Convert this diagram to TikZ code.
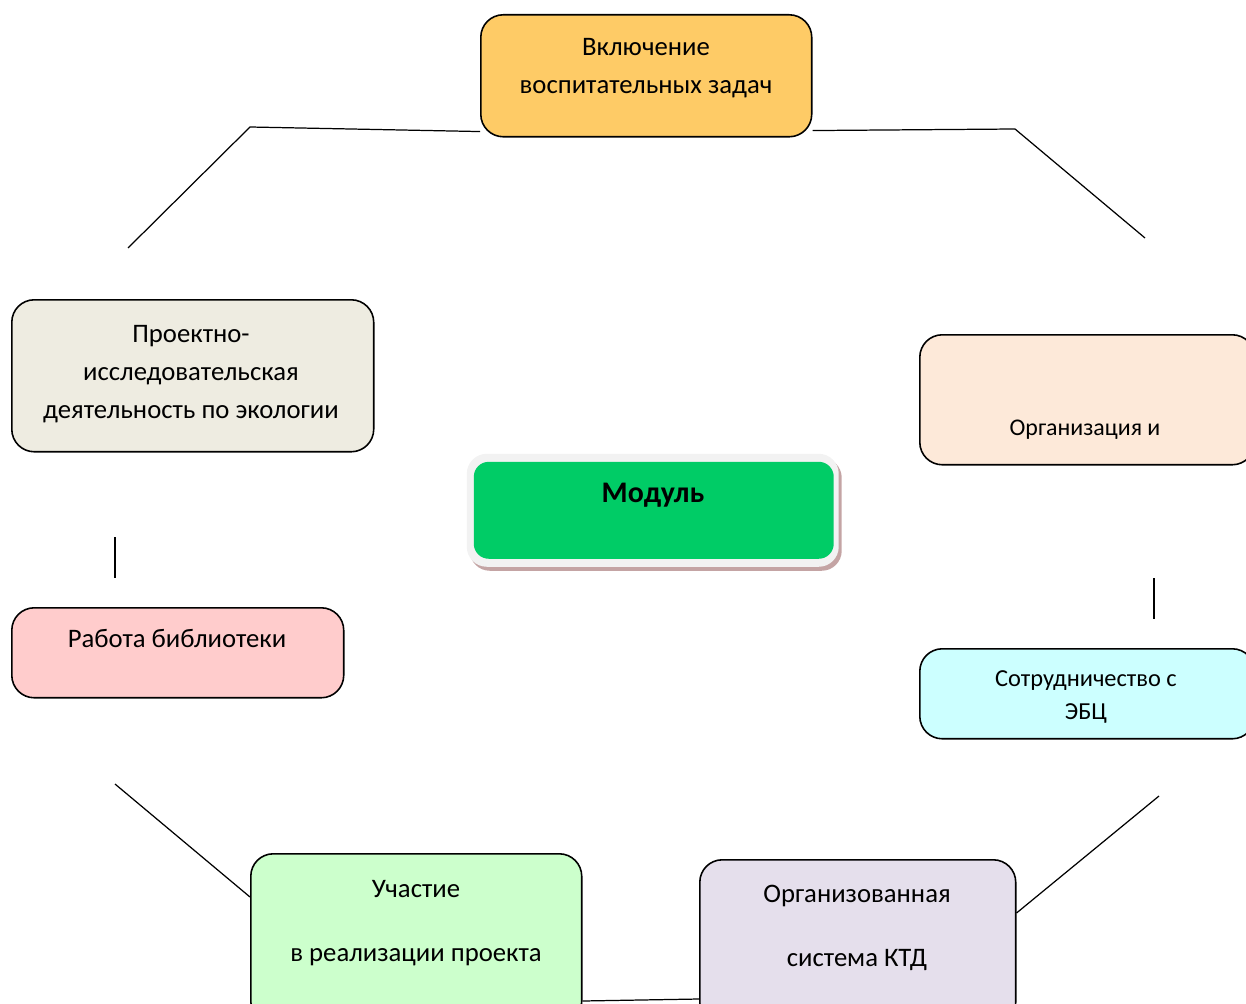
\documentclass[tikz,border=0pt]{standalone}
\usepackage{fontspec}
\setmainfont{Carlito}
\usetikzlibrary{positioning,calc}

\definecolor{topfill}{RGB}{254,203,102}
\definecolor{ecofill}{RGB}{238,236,225}
\definecolor{orgfill}{RGB}{253,233,217}
\definecolor{libfill}{RGB}{255,204,204}
\definecolor{ebcfill}{RGB}{204,255,255}
\definecolor{partfill}{RGB}{204,255,204}
\definecolor{ktdfill}{RGB}{229,223,236}
\definecolor{modfill}{RGB}{0,204,102}
\definecolor{framefill}{RGB}{242,242,242}
\definecolor{shadowfill}{RGB}{196,164,164}

\begin{document}
\begin{tikzpicture}[x=0.02cm, y=-0.02cm,
    box/.style={draw, line width=0.9pt, rounded corners=0.45cm, anchor=north west, inner sep=0pt},
    txt/.style={font=\fontsize{15.2}{21.5}\selectfont, align=center, inner sep=0pt},
    link/.style={line width=0.7pt}
]
    \useasboundingbox (0,0) rectangle (1246,1003);

    % boxes round the module
    \node[box, fill=topfill, minimum width=6.62cm, minimum height=2.44cm] (tasks) at (480,14) {};
    \node[txt] (tasks text) at (646,68) {Включение\\воспитательных задач};

    \node[box, fill=ecofill, minimum width=7.24cm, minimum height=3.04cm] (eco) at (11,299) {};
    \node[txt] (eco text) at (191,374) {Проектно-\\исследовательская\\деятельность по экологии};

    \node[box, fill=orgfill, minimum width=6.7cm, minimum height=2.6cm] (org) at (919,334) {};
    \node[txt, font=\fontsize{13.6}{16}\selectfont, anchor=mid] (org text) at (1085,431) {Организация и};

    \node[box, fill=libfill, minimum width=6.64cm, minimum height=1.8cm] (lib) at (11,607) {};
    \node[txt, anchor=mid] (lib text) at (177,643) {Работа библиотеки};

    \node[box, fill=ebcfill, minimum width=6.7cm, minimum height=1.8cm] (ebc) at (919,648) {};
    \node[txt, font=\fontsize{13.9}{18.7}\selectfont] (ebc text) at (1086,697) {Сотрудничество с\\ЭБЦ};

    \node[box, fill=partfill, minimum width=6.62cm, minimum height=3.4cm] (part) at (250,853) {};
    \node[txt, font=\fontsize{15.2}{36}\selectfont] (part text) at (416,923) {Участие\\в реализации проекта};

    \node[box, fill=ktdfill, minimum width=6.32cm, minimum height=3.3cm] (ktd) at (699,859) {};
    \node[txt, font=\fontsize{15.2}{36}\selectfont] (ktd text) at (857,928) {Организованная\\система КТД};

    % module in the middle
    \node[box, draw=none, fill=shadowfill, rounded corners=0.4cm, minimum width=7.44cm, minimum height=2.26cm] (module shadow) at (469,457) {};
    \node[box, draw=none, fill=framefill, rounded corners=0.4cm, minimum width=7.44cm, minimum height=2.26cm] (module frame) at (466,453) {};
    \node[box, draw=none, fill=modfill, rounded corners=0.3cm, minimum width=7.2cm, minimum height=1.94cm] (module) at (473,461) {};
    \node[txt, font=\fontsize{17}{20}\bfseries, anchor=mid] (module text) at (653,498) {Модуль};

    % connectors
    \coordinate (a1) at (250,127);
    \coordinate (a2) at (128,248);
    \draw[link] ($(tasks.south west)+(0,-6)$) -- (a1) -- (a2);

    \coordinate (b1) at (1015,129);
    \coordinate (b2) at (1145,238);
    \draw[link] ($(tasks.south east)+(0,-7)$) -- (b1) -- (b2);

    \coordinate (c1) at (115,537);
    \coordinate (c2) at (115,578);
    \draw[link] (c1) -- (c2);

    \coordinate (d1) at (1154,578);
    \coordinate (d2) at (1154,619);
    \draw[link] (d1) -- (d2);

    \coordinate (e1) at (115,784);
    \draw[link] (e1) -- ($(part.north west)+(0,44)$);

    \coordinate (f1) at (1159,796);
    \draw[link] (f1) -- ($(ktd.north east)+(0,54)$);

    \draw[link] ($(part.north east)+(0,148)$) -- ($(ktd.north west)+(0,140)$);
\end{tikzpicture}
\end{document}
